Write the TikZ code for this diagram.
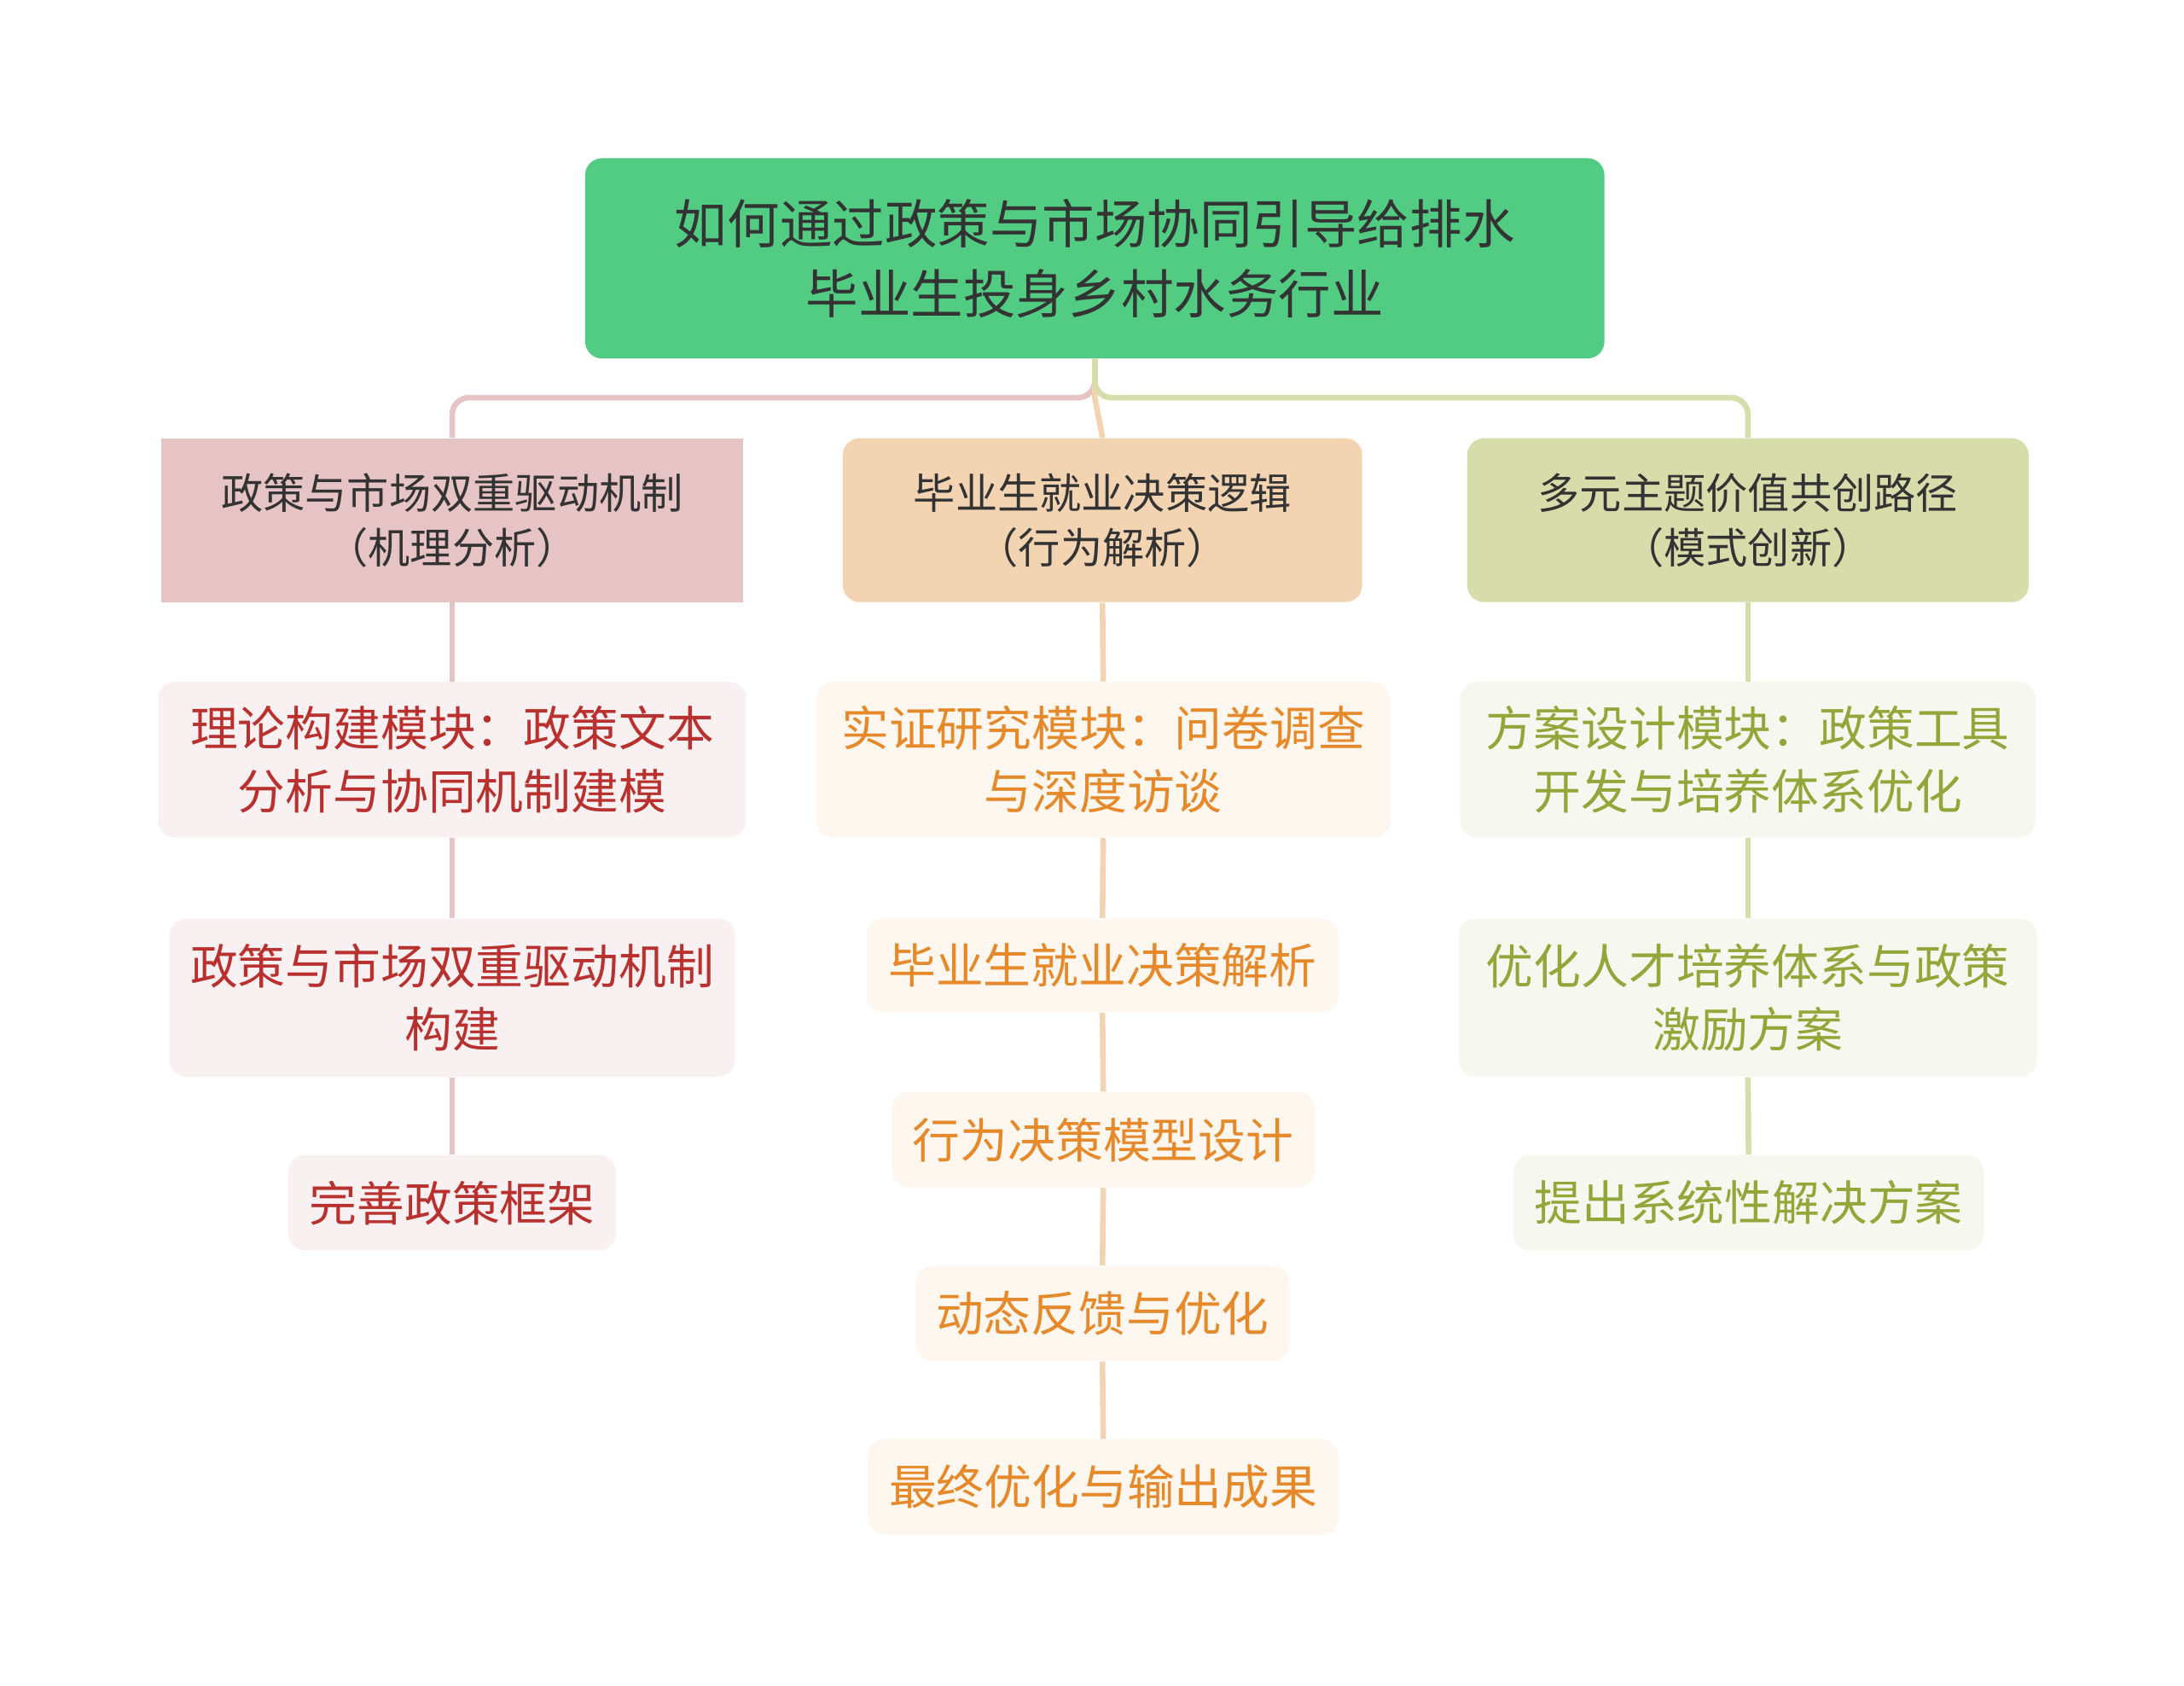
\documentclass[tikz,border=0pt]{standalone}
\usepackage{fontspec}
\setmainfont{Noto Sans CJK SC}
\definecolor{rootg}{HTML}{52CC83}
\definecolor{txt}{HTML}{333333}
\definecolor{pinkA}{HTML}{E6C3C4}
\definecolor{peachA}{HTML}{F2D4B2}
\definecolor{oliveA}{HTML}{D7DCAB}
\definecolor{pinkL}{HTML}{F9F1F1}
\definecolor{peachL}{HTML}{FEF7EF}
\definecolor{oliveL}{HTML}{F6F8EF}
\definecolor{redT}{HTML}{B8312F}
\definecolor{orangeT}{HTML}{E5892A}
\definecolor{oliveT}{HTML}{93A63A}
\begin{document}
\begin{tikzpicture}[x=0.5pt,y=-0.5pt,
  base/.style={rectangle, inner sep=0pt, align=center},
  rootbox/.style={base, fill=rootg, text=txt, rounded corners=6pt,
    font=\fontsize{18.75}{25}\selectfont},
  lone/.style={base, text=txt, minimum height=58.5pt,
    font=\fontsize{15}{19.5}\selectfont},
  leaf/.style={base, rounded corners=6pt, font=\fontsize{17}{22.5}\selectfont},
  leafL/.style={leaf, fill=pinkL, text=redT},
  leafM/.style={leaf, fill=peachL, text=orangeT},
  leafR/.style={leaf, fill=oliveL, text=oliveT},
  conn/.style={line width=2pt},
  connL/.style={conn, draw=pinkA},
  connM/.style={conn, draw=peachA},
  connR/.style={conn, draw=oliveA}
]
\useasboundingbox[fill=white] (0,0) rectangle (1560,1204);

% root
\node[rootbox, minimum width=364pt, minimum height=71.5pt] (root) at (782,184.5)
  {如何通过政策与市场协同引导给排水\\毕业生投身乡村水务行业};

% level 1
\node[lone, fill=pinkA, minimum width=208pt] (L) at (323,371.5)
  {政策与市场双重驱动机制\\（机理分析）};
\node[lone, fill=peachA, rounded corners=6pt, minimum width=185.5pt] (M) at (787.5,371.5)
  {毕业生就业决策逻辑\\（行为解析）};
\node[lone, fill=oliveA, rounded corners=6pt, minimum width=200.5pt] (R) at (1248.5,371.5)
  {多元主题价值共创路径\\（模式创新）};

% left leaves
\node[leafL, minimum width=210pt, minimum height=55.5pt] (L1) at (323,542.5)
  {理论构建模块：政策文本\\分析与协同机制建模};
\node[leafL, minimum width=202pt, minimum height=56.5pt] (L2) at (323,712.5)
  {政策与市场双重驱动机制\\构建};
\node[leafL, minimum width=117pt, minimum height=34pt] (L3) at (323,859)
  {完善政策框架};

% middle leaves
\node[leafM, minimum width=205pt, minimum height=55.5pt] (M1) at (788,542.5)
  {实证研究模块：问卷调查\\与深度访谈};
\node[leafM, minimum width=168.5pt, minimum height=33.5pt] (M2) at (787.5,689.5)
  {毕业生就业决策解析};
\node[leafM, minimum width=151pt, minimum height=34pt] (M3) at (788,814)
  {行为决策模型设计};
\node[leafM, minimum width=133.5pt, minimum height=34pt] (M4) at (787.5,938)
  {动态反馈与优化};
\node[leafM, minimum width=168pt, minimum height=34pt] (M5) at (788,1062)
  {最终优化与输出成果};

% right leaves
\node[leafR, minimum width=205.5pt, minimum height=55.5pt] (R1) at (1248.5,542.5)
  {方案设计模块：政策工具\\开发与培养体系优化};
\node[leafR, minimum width=206.5pt, minimum height=56.5pt] (R2) at (1248.5,712.5)
  {优化人才培养体系与政策\\激励方案};
\node[leafR, minimum width=168pt, minimum height=34pt] (R3) at (1249,859)
  {提出系统性解决方案};

% connectors from root
\coordinate (hub) at (782,284);
\begin{scope}[on background layer/.style={}]
\draw[connL, rounded corners=6pt] (root.south) -- (hub) -| (L.north);
\draw[connM] (root.south) -- (hub) -- (M.north);
\draw[connR, rounded corners=6pt] (root.south) -- (hub) -| (R.north);
\end{scope}

% vertical chains
\draw[connL] (L.south) -- (L1.north);
\draw[connL] (L1.south) -- (L2.north);
\draw[connL] (L2.south) -- (L3.north);

\draw[connM] (M.south) -- (M1.north);
\draw[connM] (M1.south) -- (M2.north);
\draw[connM] (M2.south) -- (M3.north);
\draw[connM] (M3.south) -- (M4.north);
\draw[connM] (M4.south) -- (M5.north);

\draw[connR] (R.south) -- (R1.north);
\draw[connR] (R1.south) -- (R2.north);
\draw[connR] (R2.south) -- (R3.north);
\end{tikzpicture}
\end{document}
